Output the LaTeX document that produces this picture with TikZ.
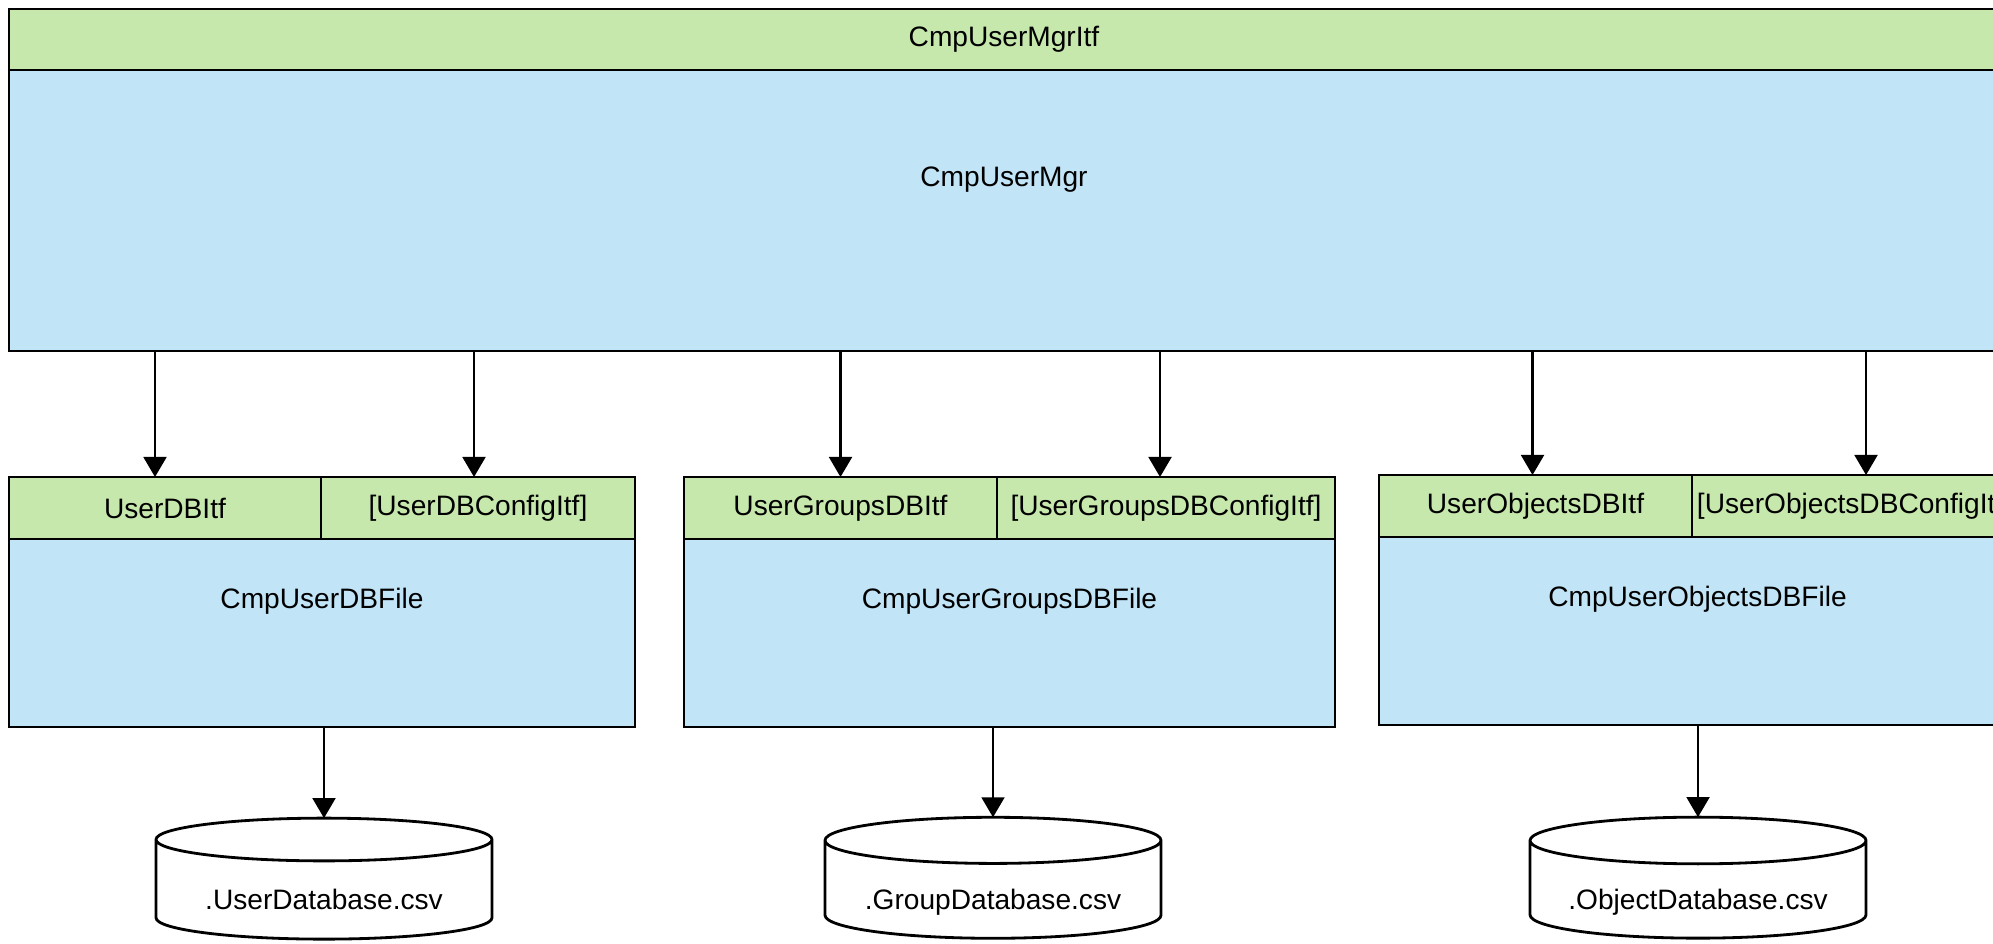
\documentclass[tikz,border=0pt]{standalone}
\usepackage{fontspec}
\setmainfont{Liberation Sans}
\usepackage{xcolor}
\usepackage{tikz}
\usetikzlibrary{calc}
\usetikzlibrary{arrows.meta}
\usetikzlibrary{shapes.geometric}

\definecolor{itfgreen}{RGB}{198,232,172}
\definecolor{cmpblue}{RGB}{193,228,246}

\begin{document}
\begin{tikzpicture}[font=\fontsize{8pt}{9.6pt}\selectfont,
		itf/.style={draw, line width=0.8pt, fill=itfgreen, inner sep=0pt, outer sep=0pt, anchor=north west},
		cmp/.style={draw, line width=0.8pt, fill=cmpblue, inner sep=0pt, outer sep=0pt, anchor=north west},
		dbfile/.style={draw, line width=0.8pt, fill=white, shape=cylinder, shape border rotate=90,
			aspect=0.18, minimum width=3.36cm, minimum height=1.21cm, inner sep=0pt, outer sep=0pt,
			text height=0.39cm, text depth=0pt},
		arr/.style={line width=0.7pt, -{Triangle[length=5.7pt,width=6.5pt]}}]
		% ---- Picture geometry ----
		\def\hI{0.62cm}   % interface row height
		\def\hC{1.88cm}   % component body height
		\def\yB{-4.77}    % top of the DB file components
		\def\yD{-8.90}    % centre of the database cylinders
		
		\useasboundingbox (0,0) rectangle (19.93,-9.43);
		\clip (0,0) rectangle (19.93,-9.43);
		
		% ---- User manager (runs past the right edge) ----
		\node[itf, minimum width=19.90cm, minimum height=0.61cm] (mgritf) at (0.09,-0.09) {CmpUserMgrItf};
		\node[cmp, minimum width=19.90cm, minimum height=2.81cm] (mgr) at (mgritf.south west) {};
		\node (mgrname) at ($(mgr.north)+(0,-1.10)$) {CmpUserMgr};
		
		% ---- User DB file ----
		\node[itf, minimum width=3.12cm, minimum height=\hI] (userdbitf) at (0.09,\yB) {UserDBItf};
		\node[itf, minimum width=3.14cm, minimum height=\hI] (userdbcfg) at (userdbitf.north east) {[UserDBConfigItf]};
		\node[cmp, minimum width=6.26cm, minimum height=\hC] (userdbfile) at (userdbitf.south west) {};
		\node (userdbname) at ($(userdbfile.north)+(0,-0.62)$) {CmpUserDBFile};
		
		% ---- User groups DB file ----
		\node[itf, minimum width=3.13cm, minimum height=\hI] (groupdbitf) at (6.84,\yB) {UserGroupsDBItf};
		\node[itf, minimum width=3.38cm, minimum height=\hI] (groupdbcfg) at (groupdbitf.north east) {[UserGroupsDBConfigItf]};
		\node[cmp, minimum width=6.51cm, minimum height=\hC] (groupdbfile) at (groupdbitf.south west) {};
		\node (groupdbname) at ($(groupdbfile.north)+(0,-0.62)$) {CmpUserGroupsDBFile};
		
		% ---- User objects DB file (cut by the right edge) ----
		\node[itf, minimum width=3.13cm, minimum height=\hI] (objdbitf) at (13.79,\yB+0.02) {UserObjectsDBItf};
		\node[itf, minimum width=3.24cm, minimum height=\hI] (objdbcfg) at (objdbitf.north east) {[UserObjectsDBConfigItf]};
		\node[cmp, minimum width=6.37cm, minimum height=\hC] (objdbfile) at (objdbitf.south west) {};
		\node (objdbname) at ($(objdbfile.north)+(0,-0.62)$) {CmpUserObjectsDBFile};
		
		% ---- Database files ----
		\node[dbfile] (userdb) at (3.24,\yD) {.UserDatabase.csv};
		\node[dbfile] (groupdb) at (9.93,\yD) {.GroupDatabase.csv};
		\node[dbfile] (objdb) at (16.98,\yD) {.ObjectDatabase.csv};
		
		% ---- Arrows (small offsets as in the drawing) ----
		\foreach \t/\dx in {userdbitf/-0.10,userdbcfg/-0.04,groupdbitf/0,groupdbcfg/-0.06,objdbitf/-0.03,objdbcfg/0.12} {
			\draw[arr] ([xshift=\dx cm]mgr.south -| \t.north) -- ([xshift=\dx cm]\t.north);
		}
		\draw[arr] (userdbfile.south -| userdb.north) -- (userdb.north);
		\draw[arr] (groupdbfile.south -| groupdb.north) -- (groupdb.north);
		\draw[arr] (objdbfile.south -| objdb.north) -- (objdb.north);
		
	\end{tikzpicture}
\end{document}
